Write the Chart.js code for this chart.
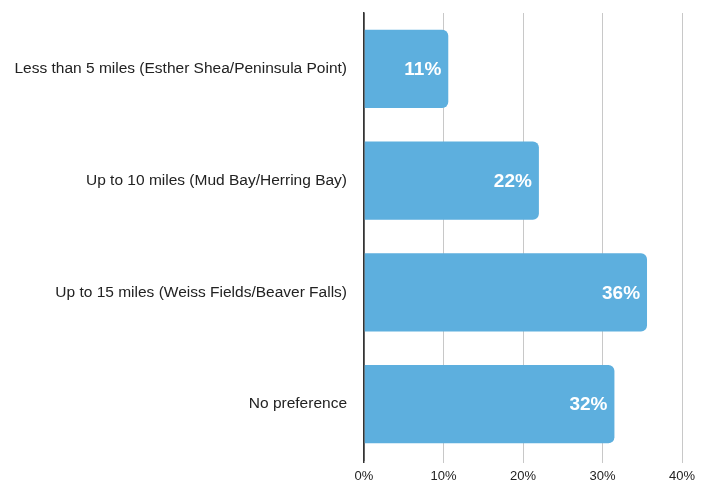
<!DOCTYPE html>
<html>
<head>
<meta charset="utf-8">
<script src="https://cdn.jsdelivr.net/npm/chart.js@4/dist/chart.umd.min.js"></script>
<style>
  html, body { margin: 0; padding: 0; background: #fff; }
  #wrap { width: 711px; height: 483px; }
</style>
</head>
<body>
<div id="wrap"><canvas id="chart"></canvas></div>
<script>
// ── Data ─────────────────────────────────────────────────────
const categories = [
    "Less than 5 miles (Esther Shea/Peninsula Point)",
    "Up to 10 miles (Mud Bay/Herring Bay)",
    "Up to 15 miles (Weiss Fields/Beaver Falls)",
    "No preference"
];
const shares = [10.6, 22, 35.6, 31.5];
const shareLabels = ["11%", "22%", "36%", "32%"];
const xTicks = [0, 10, 20, 30, 40];

const fontFamily = "'Liberation Sans', Arial, sans-serif";

// ── Value labels inside the bars ─────────────────────────────
const barLabels = {
    id: "barLabels",
    afterDatasetsDraw(chart) {
        const ctx = chart.ctx;
        const meta = chart.getDatasetMeta(0);
        ctx.save();
        ctx.font = "bold 19px " + fontFamily;
        ctx.fillStyle = "#fff";
        ctx.textAlign = "right";
        ctx.textBaseline = "middle";
        meta.data.forEach((bar, i) => {
            ctx.fillText(shareLabels[i], bar.x - 7, bar.y + 1);
        });
        ctx.restore();
    }
};

new Chart(document.getElementById("chart"), {
    type: "bar",
    data: {
        labels: categories,
        datasets: [{
            data: shares,
            backgroundColor: "rgb(93,175,222)",
            borderRadius: 6,
            borderSkipped: "start",
            barPercentage: 0.7,
            categoryPercentage: 1
        }]
    },
    options: {
        indexAxis: "y",
        responsive: true,
        maintainAspectRatio: false,
        animation: false,
        layout: { padding: { top: 13, right: 29, bottom: 0, left: 0 } },
        plugins: { legend: { display: false }, tooltip: { enabled: false } },
        scales: {
            x: {
                min: 0,
                max: 40,
                afterBuildTicks: axis => { axis.ticks = xTicks.map(v => ({ value: v })); },
                afterFit: scale => { scale.height = 23; scale.paddingTop = 0; scale.paddingBottom = 0; },
                ticks: {
                    callback: v => v + "%",
                    color: "#222",
                    font: { family: fontFamily, size: 13 },
                    padding: 6,
                    maxRotation: 0
                },
                grid: {
                    color: ctx => ctx.index === 0 ? "#333" : "#c8c8c8",
                    lineWidth: ctx => ctx.index === 0 ? 1.5 : 1,
                    drawTicks: true,
                    tickLength: 3
                },
                border: { display: false }
            },
            y: {
                afterFit: scale => { scale.width = 364; scale.paddingTop = 0; scale.paddingBottom = 0; },
                ticks: {
                    color: "#222",
                    font: { family: fontFamily, size: 15.5 },
                    padding: 17
                },
                grid: { display: false, drawTicks: false },
                border: { display: true, color: "#333", width: 1.5 }
            }
        }
    },
    plugins: [barLabels]
});
</script>
</body>
</html>
